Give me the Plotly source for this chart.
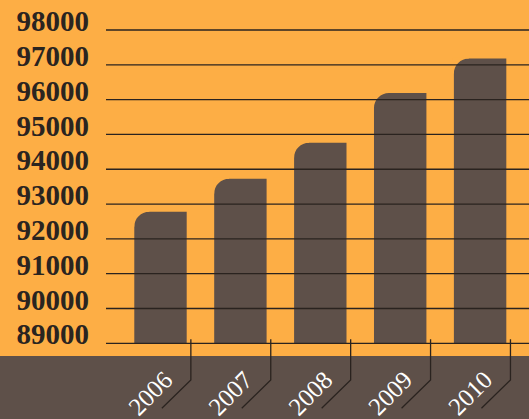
import plotly.graph_objects as go

years = ["2006", "2007", "2008", "2009", "2010"]
values = [92780, 93730, 94760, 96190, 97180]
y_ticks = [89000, 90000, 91000, 92000, 93000, 94000, 95000, 96000, 97000, 98000]

ORANGE = "#FDAE45"
BROWN = "#5E5049"
LINE = "#2A231F"

bar_w = 0.656
idx = list(range(len(years)))

fig = go.Figure()
fig.add_trace(go.Bar(x=idx, y=values, width=bar_w, offset=-bar_w / 2,
                     marker=dict(color=BROWN, line=dict(width=0)),
                     hoverinfo="skip", showlegend=False))

shapes = [dict(type="rect", xref="paper", yref="paper", x0=-0.5, x1=1.5, y0=-0.5, y1=-0.0349,
               fillcolor=BROWN, line=dict(width=0), layer="below")]
# rounded top-left corner of each bar (background-coloured corner mask, radius 15 px)
for i, v in zip(idx, values):
    shapes.append(dict(type="path", xref="x", yref="y", xsizemode="pixel", ysizemode="pixel",
                       xanchor=i - bar_w / 2, yanchor=v,
                       path="M-1,1 L15,1 L15,0 C6.72,0 0,-6.72 0,-15 L-1,-15 Z",
                       fillcolor=ORANGE, line=dict(width=0), layer="above"))
for t in y_ticks:
    shapes.append(dict(type="line", xref="paper", yref="y", x0=0, x1=1, y0=t, y1=t,
                       line=dict(color=LINE, width=1.3), layer="above"))
for i in idx:
    shapes.append(dict(type="path", xref="x", yref="paper", xsizemode="pixel", ysizemode="pixel",
                       xanchor=i + 0.38, yanchor=0,
                       path="M0,4.7 L0,-36 L-29,-64.3",
                       line=dict(color=LINE, width=1.3), layer="above"))

annotations = []
for i, yr in zip(idx, years):
    annotations.append(dict(x=i, xref="x", y=0, yref="paper", text=yr, showarrow=False,
                            textangle=-45, xanchor="center", yanchor="middle",
                            xshift=-10.5, yshift=-49,
                            font=dict(family="Liberation Serif", size=25, color="white")))

fig.update_layout(
    template="none",
    width=529, height=419,
    margin=dict(l=106, r=0, t=0, b=75),
    paper_bgcolor=ORANGE, plot_bgcolor=ORANGE,
    shapes=shapes, annotations=annotations,
    xaxis=dict(range=[-0.682, 4.612], showticklabels=False, automargin=False,
               showgrid=False, zeroline=False, showline=False, ticks=""),
    yaxis=dict(range=[88980, 98862], tickvals=y_ticks, ticktext=[str(t) for t in y_ticks],
               showgrid=False, zeroline=False, showline=False, ticks="", automargin=False,
               ticklabelstandoff=16, ticklabelshift=-9,
               tickfont=dict(family="Liberation Serif", size=29, color="#2A2420", weight="bold")),
)

fig.write_html("out.html", config={"displayModeBar": False},
               post_script="document.body.style.margin='0px';")
